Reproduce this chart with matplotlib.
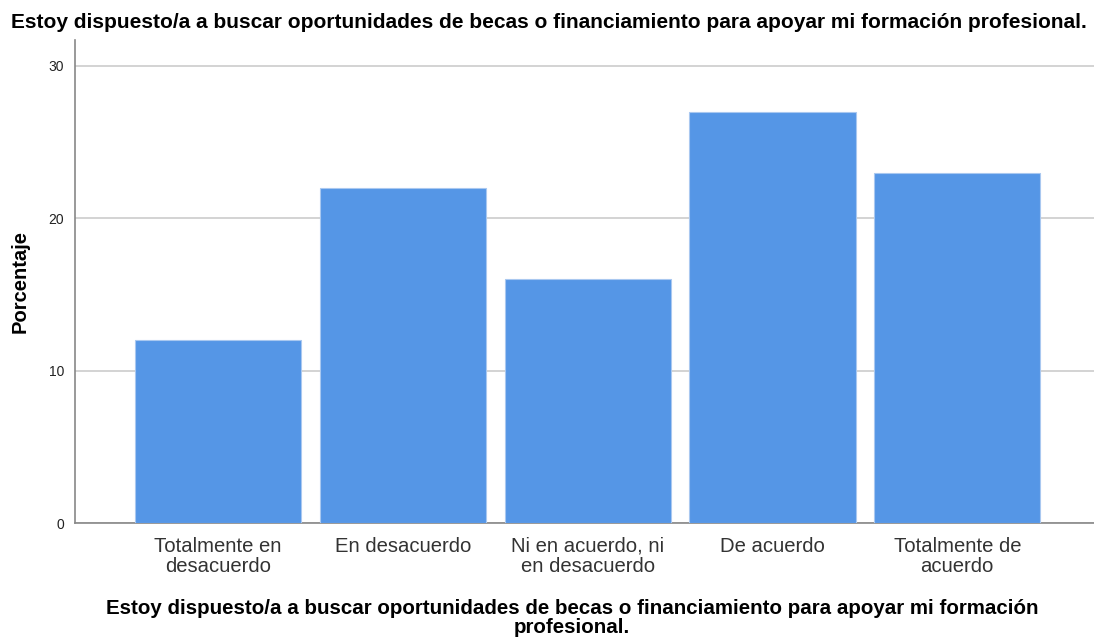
import matplotlib.pyplot as plt

categories = ['Totalmente en\ndesacuerdo', 'En desacuerdo', 'Ni en acuerdo, ni\nen desacuerdo',
              'De acuerdo', 'Totalmente de\nacuerdo']
percent = [12, 22, 16, 27, 23]
yticks = [0, 10, 20, 30]

title = 'Estoy dispuesto/a a buscar oportunidades de becas o financiamiento para apoyar mi formación profesional.'
xlabel = 'Estoy dispuesto/a a buscar oportunidades de becas o financiamiento para apoyar mi formación\nprofesional.'

plt.rcParams['font.family'] = ['Liberation Sans', 'DejaVu Sans']

fig = plt.figure(figsize=(10.94, 6.41), dpi=100)
ax = fig.add_axes([0.0686, 0.184, 0.9314, 0.7536])

x = list(range(len(categories)))
ax.bar(x, percent, width=0.9, color='#5596e6', edgecolor='#a9c8f0', linewidth=0.8, zorder=3)

ax.set_xlim(-0.774, 4.74)
ax.set_ylim(0, 31.7)
ax.set_yticks(yticks)
ax.set_yticklabels([str(t) for t in yticks], fontsize=10, color='#222222')
ax.set_xticks(x)
ax.set_xticklabels(categories, fontsize=14.6, color='#333333', linespacing=1.1)
ax.tick_params(axis='both', length=0, pad=8)
ax.tick_params(axis='x', pad=10)

ax.grid(axis='y', color='#cccccc', linewidth=1.2, zorder=0)
for s in ['top', 'right']:
    ax.spines[s].set_visible(False)
ax.spines['left'].set_color('#888888')
ax.spines['bottom'].set_color('#888888')
ax.spines['left'].set_linewidth(1.2)
ax.spines['bottom'].set_linewidth(1.2)

ax.set_ylabel('Porcentaje', fontsize=14.5, fontweight='bold')
ax.yaxis.set_label_coords(-0.045, 0.5)
fig.text(0.502, 0.965, title, ha='center', va='center', fontsize=15, fontweight='bold')
fig.text(0.523, 0.036, xlabel, ha='center', va='center', fontsize=14.8, fontweight='bold', linespacing=1.0)

fig.savefig('out.png', dpi=100)
